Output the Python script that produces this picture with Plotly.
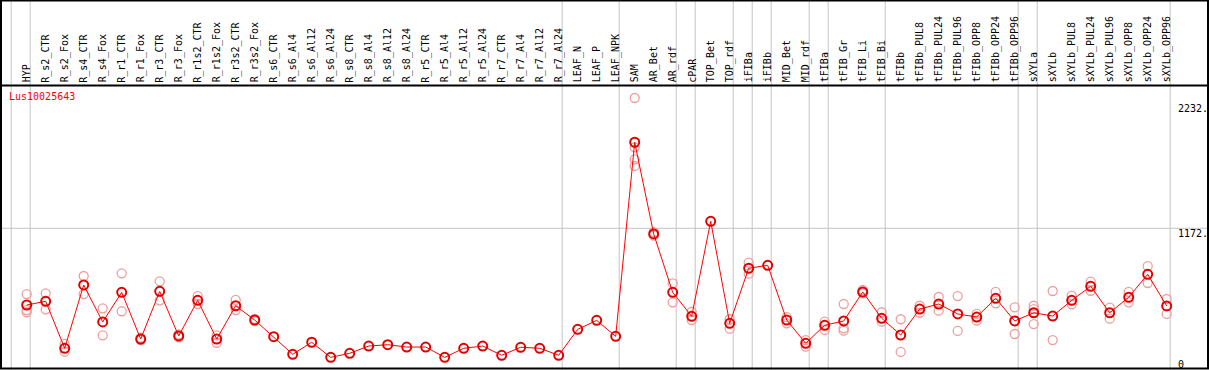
import plotly.graph_objects as go

W, H = 1209, 370

categories = ["HYP", "R_s2_CTR", "R_s2_Fox", "R_s4_CTR", "R_s4_Fox", "R_r1_CTR", "R_r1_Fox",
              "R_r3_CTR", "R_r3_Fox", "R_r1s2_CTR", "R_r1s2_Fox", "R_r3s2_CTR", "R_r3s2_Fox",
              "R_s6_CTR", "R_s6_Al4", "R_s6_Al12", "R_s6_Al24", "R_s8_CTR", "R_s8_Al4", "R_s8_Al12",
              "R_s8_Al24", "R_r5_CTR", "R_r5_Al4", "R_r5_Al12", "R_r5_Al24", "R_r7_CTR", "R_r7_Al4",
              "R_r7_Al12", "R_r7_Al24", "LEAF_N", "LEAF_P", "LEAF_NPK", "SAM", "AR_Bet", "AR_rdf",
              "cPAR", "TOP_Bet", "TOP_rdf", "iFIBa", "iFIBb", "MID_Bet", "MID_rdf", "tFIBa",
              "tFIB_Gr", "tFIB_Li", "tFIB_Bi", "tFIBb", "tFIBb_PUL8", "tFIBb_PUL24", "tFIBb_PUL96",
              "tFIBb_OPP8", "tFIBb_OPP24", "tFIBb_OPP96", "sXYLa", "sXYLb", "sXYLb_PUL8",
              "sXYLb_PUL24", "sXYLb_PUL96", "sXYLb_OPP8", "sXYLb_OPP24", "sXYLb_OPP96"]

means = [548, 578, 196, 711, 410, 651, 271, 659, 296, 586,
         271, 542, 426, 290, 147, 245, 122, 155, 214, 225,
         206, 206, 122, 196, 214, 139, 204, 196, 139, 350,
         423, 293, 1872, 1126, 651, 456, 1229, 399, 847, 871,
         426, 236, 383, 418, 654, 440, 304, 515, 556, 475,
         450, 602, 418, 485, 458, 586, 700, 485, 611, 798, 540]

replicates = [[637, 507, 489], [643, 513], [231, 168], [784, 637], [521, 301], [806, 497],
              [263, 282], [741, 586], [284, 308], [621, 556], [301, 241], [589, 507], [434, 418],
              [], [], [], [], [], [], [], [], [], [], [], [], [], [], [], [], [], [], [],
              [2232, 1831, 1733, 1679], [1140, 1112], [724, 570], [493, 426], [], [432, 355],
              [892, 803], [], [450, 399], [263, 209], [412, 345], [556, 358, 339], [670, 643],
              [489, 412], [432, 166], [542, 485], [613, 502], [621, 337], [475, 420], [654, 562],
              [529, 312], [542, 515, 393], [662, 263], [624, 554], [738, 664], [526, 437],
              [654, 570], [865, 727], [597, 475]]

# group separators drawn just after these category indices
group_ends = [-1, 0, 28, 31, 34, 35, 37, 38, 39, 41, 42, 45, 52, 53, 60]

axis_ticks = [112, 1172, 2232]
axis_tick_text = ["0", "1172.", "2232."]
gene = "Lus10025643"

# pixel geometry
x0_px, step_px = 26.7, 19.0
y_top_val, y_per_px = 3029.3, 8.1354
xr = [-x0_px / step_px, (W - x0_px) / step_px]
yr = [y_top_val - y_per_px * H, y_top_val]

rx, ry = [], []
for i, reps in enumerate(replicates):
    for v in reps:
        rx.append(i)
        ry.append(v)

fig = go.Figure()
fig.add_trace(go.Scatter(x=rx, y=ry, mode="markers",
                         marker=dict(symbol="circle-open", size=9, color="#EE9E9E",
                                     line=dict(width=1.3, color="#EE9E9E")),
                         hoverinfo="skip", showlegend=False))
fig.add_trace(go.Scatter(x=list(range(len(categories))), y=means, mode="lines+markers",
                         line=dict(color="#FF0000", width=1),
                         marker=dict(symbol="circle-open", size=9, color="#E00000",
                                     line=dict(width=2, color="#E00000")),
                         hoverinfo="skip", showlegend=False))

shapes = []
sep_off = 3.5 / step_px
for g in group_ends:
    shapes.append(dict(type="line", xref="x", yref="paper", x0=g + sep_off, x1=g + sep_off,
                       y0=0, y1=1, line=dict(color="#C4C4C4", width=1), layer="below"))
shapes.append(dict(type="line", xref="paper", yref="y", x0=0, x1=1, y0=axis_ticks[1],
                   y1=axis_ticks[1], line=dict(color="#C4C4C4", width=1), layer="below"))
# frame
shapes.append(dict(type="rect", xref="paper", yref="paper", x0=1 / W, x1=1 - 1 / W,
                   y0=1.5 / H, y1=1 - 0.5 / H, line=dict(color="black", width=2),
                   fillcolor="rgba(0,0,0,0)"))
shapes.append(dict(type="line", xref="paper", yref="paper", x0=0, x1=1,
                   y0=1 - 85.5 / H, y1=1 - 85.5 / H, line=dict(color="black", width=2)))

annotations = []
for i, c in enumerate(categories):
    annotations.append(dict(text=c, x=i, xref="x", y=1 - 83.5 / H, yref="paper",
                            xanchor="center", yanchor="bottom", textangle=-90,
                            showarrow=False, borderpad=0,
                            font=dict(family="DejaVu Sans Mono", size=10, color="black")))
shifts = [0, 0, -5]
for v, t, s in zip(axis_ticks, axis_tick_text, shifts):
    annotations.append(dict(text=t, x=1177 / W, xref="paper", y=v, yref="y",
                            xanchor="left", yanchor="top", showarrow=False, borderpad=0,
                            yshift=s + 1,
                            font=dict(family="DejaVu Sans Mono", size=10, color="black")))
annotations.append(dict(text=gene, x=8 / W, xref="paper", y=1 - 90 / H, yref="paper",
                        xanchor="left", yanchor="top", showarrow=False, borderpad=0,
                        font=dict(family="DejaVu Sans Mono", size=10, color="#FF0000")))

fig.update_layout(width=W, height=H, margin=dict(l=0, r=0, t=0, b=0, autoexpand=False),
                  paper_bgcolor="white", plot_bgcolor="white",
                  xaxis=dict(range=xr, visible=False, fixedrange=True),
                  yaxis=dict(range=yr, visible=False, fixedrange=True),
                  shapes=shapes, annotations=annotations)

fig.write_html("out.html", config={"displayModeBar": False},
               post_script="document.body.style.margin='0';document.body.style.overflow='hidden';")
